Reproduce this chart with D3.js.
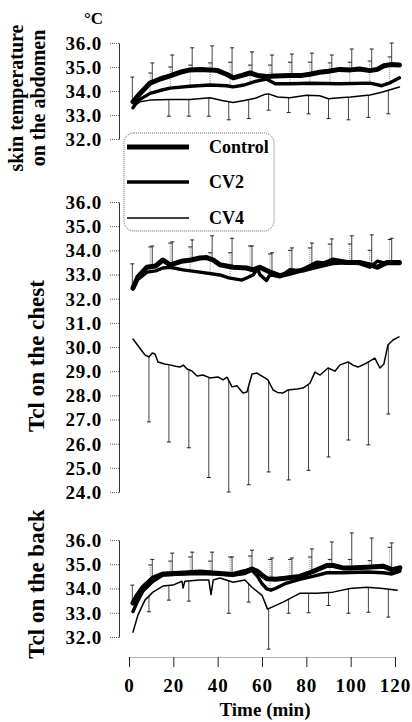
<!DOCTYPE html>
<html>
<head>
<meta charset="utf-8">
<script src="https://cdn.jsdelivr.net/npm/d3@7"></script>
<style>
body { margin: 0; background: #fff; }
text { font-family: "Liberation Serif", "Times New Roman", serif; font-weight: bold; fill: #000; }
</style>
</head>
<body>
<div class="forshow"></div>
<script>
// series names
var seriesNames = ["Control", "CV2", "CV4"];

// abdomen panel means [time, value]
var abdControl = [[1.8,33.55],[5,33.9],[9.5,34.33],[14,34.5],[18.5,34.63],[23,34.78],[27.5,34.88],[32,34.9],[36.5,34.88],[40,34.85],[44,34.7],[47,34.55],[51,34.65],[54.6,34.75],[58,34.65],[62,34.6],[66,34.62],[72.6,34.65],[78,34.65],[81.6,34.7],[86,34.78],[90,34.82],[95,34.9],[100,34.88],[104,34.92],[108.7,34.85],[112,34.9],[115,35.05],[118,35.1],[122,35.08]];
var abdCV2 = [[1.8,33.3],[4,33.6],[9.5,33.9],[14,34.02],[18.5,34.12],[27.5,34.2],[36.5,34.25],[44,34.22],[47,34.17],[52,34.25],[57,34.4],[62,34.5],[66,34.3],[72.6,34.3],[81.6,34.32],[95,34.3],[108.7,34.33],[114,34.22],[118,34.35],[122,34.55]];
var abdCV4 = [[1.8,33.35],[5,33.55],[9.5,33.62],[18.5,33.65],[27.5,33.65],[36.5,33.72],[42,33.6],[47,33.52],[52,33.6],[57,33.7],[61,33.85],[63,33.88],[67,33.75],[72.6,33.72],[80,33.82],[86,33.8],[90,33.68],[95,33.72],[100,33.75],[108.7,33.83],[114,33.95],[122,34.17]];

// chest panel means
var chestControl = [[1.8,32.44],[4,32.9],[8.1,33.3],[12,33.35],[15.3,33.6],[18.5,33.4],[24.4,33.56],[28,33.6],[32,33.68],[35,33.7],[38,33.6],[41,33.4],[47,33.3],[53,33.27],[56,33.19],[59,33.3],[63.6,33.1],[68,32.95],[72.6,33.05],[78.5,33.19],[84.8,33.48],[88,33.45],[92,33.6],[98.3,33.5],[104,33.5],[108.7,33.4],[112,33.3],[116.4,33.5],[122,33.5]];
var chestCV2 = [[1.8,32.4],[4,32.8],[8.1,33.1],[12,33.15],[15.3,33.27],[18.5,33.3],[24.4,33.19],[32,33.1],[41,32.98],[45,32.86],[51,32.77],[56,32.98],[58,33.25],[59,33.0],[62,32.75],[63.6,33.0],[68,32.9],[72.6,33.2],[78.5,33.15],[84.8,33.3],[92,33.45],[98.3,33.48],[104,33.45],[108.7,33.3],[112,33.55],[116.4,33.45],[122,33.45]];
var chestCV4 = [[1.8,30.33],[4.5,30.0],[7.2,29.67],[9,29.59],[10.5,29.75],[11.7,29.71],[13.1,29.38],[16,29.3],[18.5,29.26],[21,29.2],[23,29.17],[24.5,29.25],[26.2,29.09],[28.5,29.0],[30.7,28.8],[33.4,28.84],[36.5,28.72],[40.1,28.76],[42.4,28.64],[44.2,28.75],[46.5,28.35],[48.7,28.4],[51.4,28.1],[53.2,28.14],[55.5,28.88],[57.7,28.92],[61.3,28.72],[62.7,28.64],[65,28.22],[67,28.12],[69.5,28.1],[71.7,28.22],[75.8,28.26],[78.5,28.3],[81.6,28.5],[83.9,28.96],[86.2,28.84],[89.8,29.13],[92.9,29.0],[95.2,29.26],[98.8,29.38],[101,29.25],[103.3,29.17],[107.3,29.34],[110.9,29.54],[113.2,29.13],[115,29.3],[116.8,30.08],[119.1,30.29],[121.8,30.42]];

// back panel means
var backControl = [[1.8,33.4],[4,33.75],[6.3,34.05],[10.8,34.43],[15.3,34.6],[23,34.63],[32,34.68],[41,34.62],[47,34.58],[52.3,34.7],[55.5,34.8],[57.7,34.72],[60,34.55],[62.2,34.4],[66,34.38],[70.4,34.42],[77,34.5],[83,34.7],[89.3,34.95],[92,34.95],[96.5,34.85],[99.7,34.85],[107.3,34.88],[114.6,34.92],[118.6,34.78],[122.2,34.85]];
var backCV2 = [[1.8,33.05],[4,33.5],[6.3,33.9],[10.8,34.3],[15.3,34.55],[23,34.6],[32,34.62],[41,34.6],[47,34.55],[52.3,34.62],[55.5,34.75],[58,34.5],[60,34.2],[62.2,33.98],[64,33.93],[66,34.0],[70.4,34.2],[77,34.38],[83,34.5],[89.3,34.65],[96.5,34.65],[107.3,34.68],[114.6,34.65],[118.6,34.6],[122.2,34.72]];
var backCV4 = [[1.8,32.2],[4,32.9],[7.2,33.52],[10.8,33.85],[15.3,34.1],[19.8,34.14],[23.9,34.3],[24.4,34.02],[25.2,34.3],[32,34.35],[36,34.35],[37,33.75],[38,34.35],[41,34.43],[47,34.26],[52.3,34.35],[55.5,34.05],[60,33.72],[62.5,33.15],[69.5,33.44],[77,33.8],[84.6,33.8],[92,33.85],[99.7,34.0],[107.3,34.05],[114.6,34.0],[121,33.93]];

// error bar times (min) and bar end values
var upTimes = [1.5, 10.5, 19.5, 28.5, 37.5, 46.5, 55.5, 64.5, 73.5, 82.5, 91.5, 100.5, 109.5, 118.5];
var downTimes = [9, 18, 27, 36, 45, 54, 63, 72, 81, 90, 99, 108, 117];

var abdControlTop = [34.58, 35.17, 35.5, 35.8, 35.88, 35.8, 35.63, 35.5, 35.54, 35.58, 35.5, 35.75, 35.75, 36.0];
var abdCV2Top = [null, 34.75, 35.0, 35.08, 35.17, 35.2, 35.08, 35.08, 35.2, 35.2, 35.17, 35.2, 35.25, 35.42];
var abdCV4Bottom = [null, 32.95, 32.95, 32.95, 32.8, 32.85, 33.2, 33.1, 33.05, 32.85, 32.8, 32.9, 33.05];

var chestControlTop = [33.44, 34.18, 34.35, 34.43, 34.6, 34.5, 34.18, 33.9, 34.1, 34.3, 34.47, 34.6, 34.64, 34.5];
var chestCV2Top = [null, 34.14, 34.3, 34.14, 33.9, 33.9, 34.18, 33.85, 34.0, 34.1, 34.26, 34.26, 34.0, 34.45];
var chestCV4Bottom = [26.9, 26.07, 25.83, 24.6, 24.0, 24.3, 24.83, 24.5, 24.9, 25.45, 26.15, 25.95, 27.23];

var backControlTop = [34.14, 35.2, 35.46, 35.5, 35.5, 35.3, 35.58, 35.26, 35.26, 35.63, 35.92, 36.29, 36.08, 35.88];
var backCV2Top = [null, 34.97, 35.13, 35.3, 35.13, 35.3, 35.34, 35.2, 35.2, 35.3, 35.2, 35.2, 35.15, 35.7];
var backCV4Bottom = [33.04, 33.52, 33.48, null, 32.98, 33.44, 31.5, 32.98, 33.0, 33.3, 32.98, 33.02, 32.82];

// axis ticks
var xTicks = [0, 20, 40, 60, 80, 100, 120];
var abdTicks = [32, 33, 34, 35, 36];
var chestTicks = [24, 25, 26, 27, 28, 29, 30, 31, 32, 33, 34, 35, 36];
var backTicks = [32, 33, 34, 35, 36];

var svg = d3.select(".forshow").append("svg")
	.attr("width", 412)
	.attr("height", 722);

var x = d3.scaleLinear().domain([0, 120]).range([129, 395]);

var panels = [{
	y: d3.scaleLinear().domain([32, 36]).range([139, 43]),
	ticks: abdTicks,
	means: [abdControl, abdCV2, abdCV4],
	tops: [abdControlTop, abdCV2Top],
	bottom: abdCV4Bottom
}, {
	y: d3.scaleLinear().domain([24, 36]).range([492, 202]),
	ticks: chestTicks,
	means: [chestControl, chestCV2, chestCV4],
	tops: [chestControlTop, chestCV2Top],
	bottom: chestCV4Bottom
}, {
	y: d3.scaleLinear().domain([32, 36]).range([637, 540]),
	ticks: backTicks,
	means: [backControl, backCV2, backCV4],
	tops: [backControlTop, backCV2Top],
	bottom: backCV4Bottom
}];

var widths = [5, 3.4, 1.5];

panels.forEach(function(p) {
	var means = p.means;
	var g = svg.append("g");

	// y axis
	var ax = g.append("g")
		.attr("transform", "translate(119,0)")
		.call(d3.axisLeft(p.y).tickValues(p.ticks).tickFormat(d3.format(".1f")).tickSize(9).tickSizeOuter(0).tickPadding(8));
	ax.select(".domain").attr("stroke", "#333");
	ax.selectAll(".tick line").attr("stroke", "#555").attr("stroke-dasharray", "1,1");
	ax.selectAll("text")
		.style("font-size", "19px")
		.style("letter-spacing", "0.8px")
		.attr("dy", "0.34em");

	// error bars up (Control, CV2)
	var bars = [];
	p.tops.forEach(function(arr, k) {
		arr.forEach(function(v, i) {
			if (v === null) return;
			var t = upTimes[i] - k * 0.9;
			var m = valueAt(means[k], t);
			bars.push({ t: t, from: m, to: v, k: k });
		});
	});
	p.bottom.forEach(function(v, i) {
		if (v === null) return;
		var t = downTimes[i];
		bars.push({ t: t, from: valueAt(means[2], t), to: v, k: 2 });
	});

	g.selectAll("line.err")
		.data(bars)
		.enter()
		.append("line")
		.attr("class", "err")
		.attr("x1", function(d) { return x(d.t); })
		.attr("x2", function(d) { return x(d.t); })
		.attr("y1", function(d) { return p.y(d.from); })
		.attr("y2", function(d) { return p.y(d.to); })
		.attr("stroke", function(d) { return d.k == 1 ? "#888" : "#444"; })
		.attr("stroke-dasharray", function(d) { return d.k == 1 ? "1,1" : null; })
		.attr("stroke-width", 1);

	g.selectAll("line.cap")
		.data(bars)
		.enter()
		.append("line")
		.attr("class", "cap")
		.attr("x1", function(d) { return x(d.t) - 2; })
		.attr("x2", function(d) { return x(d.t) + 2; })
		.attr("y1", function(d) { return p.y(d.to); })
		.attr("y2", function(d) { return p.y(d.to); })
		.attr("stroke", "#222")
		.attr("stroke-width", 1);

	// mean lines
	var line = d3.line()
		.x(function(d) { return x(d[0]); })
		.y(function(d) { return p.y(d[1]); });

	g.selectAll("path.mean")
		.data(means)
		.enter()
		.append("path")
		.attr("class", "mean")
		.attr("d", line)
		.attr("fill", "none")
		.attr("stroke", "#000")
		.attr("stroke-linejoin", "round")
		.attr("stroke-linecap", "round")
		.attr("stroke-width", function(d, i) { return widths[i]; });
});

function valueAt(series, t) {
	for (var i = 1; i < series.length; i++) {
		if (series[i][0] >= t) {
			var a = series[i - 1], b = series[i];
			return a[1] + (b[1] - a[1]) * (t - a[0]) / (b[0] - a[0]);
		}
	}
	return series[series.length - 1][1];
}

// x axis
var xa = svg.append("g")
	.attr("transform", "translate(0,657)")
	.call(d3.axisBottom(x).tickValues(xTicks).tickSize(10).tickSizeOuter(0).tickPadding(12));
xa.select(".domain").attr("stroke", "#666").attr("stroke-dasharray", "1,1");
xa.selectAll(".tick line").attr("stroke", "#222");
xa.selectAll("text").style("font-size", "19px").style("letter-spacing", "1px");

svg.append("text")
	.attr("x", 265)
	.attr("y", 716)
	.attr("text-anchor", "middle")
	.style("font-size", "19px")
	.text("Time (min)");

svg.append("text")
	.attr("x", 84)
	.attr("y", 24)
	.style("font-size", "17px")
	.text("°C");

// y labels
var yLabels = [
	{ text: "skin temperature", x: 23, y: 98, size: 20 },
	{ text: "on the abdomen", x: 45, y: 98, size: 20 },
	{ text: "Tcl on the chest", x: 44, y: 356, size: 23 },
	{ text: "Tcl on the back", x: 44, y: 584, size: 23 }
];
svg.selectAll("text.ylab")
	.data(yLabels)
	.enter()
	.append("text")
	.attr("class", "ylab")
	.attr("text-anchor", "middle")
	.attr("transform", function(d) { return "translate(" + d.x + "," + d.y + ") rotate(-90)"; })
	.style("font-size", function(d) { return d.size + "px"; })
	.text(function(d) { return d.text; });

// legend
var legend = svg.append("g");
legend.append("rect")
	.attr("x", 124)
	.attr("y", 133)
	.attr("width", 150)
	.attr("height", 98)
	.attr("rx", 10)
	.attr("fill", "#fff")
	.attr("stroke", "#666")
	.attr("stroke-dasharray", "1,1");

var legY = [147, 182, 218];
var items = legend.selectAll("g.item")
	.data(seriesNames)
	.enter()
	.append("g")
	.attr("class", "item")
	.attr("transform", function(d, i) { return "translate(0," + legY[i] + ")"; });
items.append("line")
	.attr("x1", 127)
	.attr("x2", 189)
	.attr("stroke", "#000")
	.attr("stroke-width", function(d, i) { return widths[i]; });
items.append("text")
	.attr("x", 209)
	.attr("y", 6)
	.style("font-size", "18px")
	.text(function(d) { return d; });
</script>
</body>
</html>
